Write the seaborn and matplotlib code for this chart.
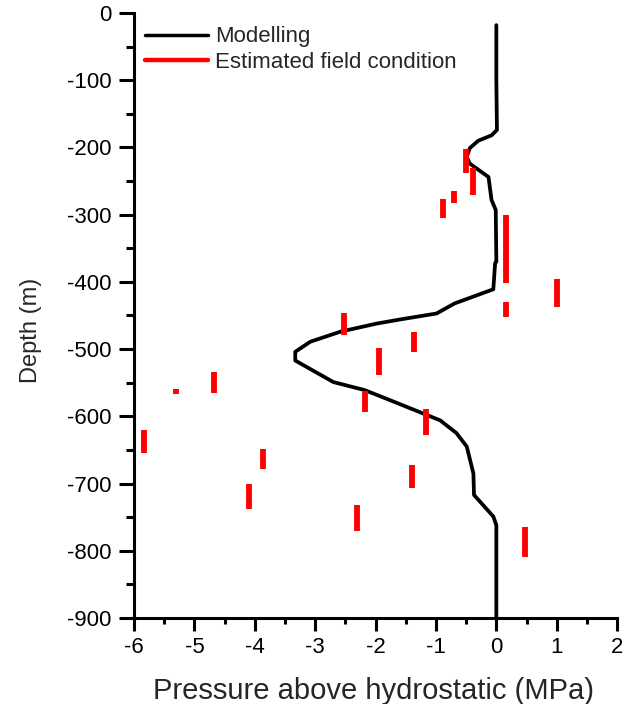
import numpy as np
import pandas as pd
import matplotlib
matplotlib.use("Agg")
import matplotlib.pyplot as plt
from matplotlib.lines import Line2D
from matplotlib.ticker import MultipleLocator
import seaborn as sns

# Modelled pressure profile (MPa above hydrostatic vs depth, m)
model_pressure = [0.0, 0.0, 0.01, -0.08, -0.30, -0.44, -0.49, -0.44, -0.13, -0.08, -0.01, 0.0, -0.02,
                  -0.05, -0.69, -0.99, -1.60, -1.98, -2.58, -3.08, -3.33, -3.33, -2.70, -2.18,
                  -1.76, -0.93, -0.66, -0.49, -0.38, -0.37, -0.05, 0.0, 0.0]
model_depth = [-18, -100, -174, -182, -190, -201, -214, -224, -244, -278, -293, -370, -372,
               -411, -432, -447, -456, -462, -474, -489, -504, -517, -549, -561,
               -576, -606, -625, -645, -685, -717, -749, -762, -900]

# Estimated field condition: pressure and depth interval (top, bottom)
field_pressure = [-0.50, -0.39, -0.70, -0.89, 0.16, 0.16, 1.01, -2.52, -1.36, -1.94,
                  -4.67, -5.30, -2.18, -1.16, -5.83, -3.86, -1.40, -4.09, -2.30, 0.47]
field_top = [-203, -230, -265, -277, -300, -430, -396, -447, -474, -498,
             -534, -559, -562, -589, -621, -648, -673, -701, -732, -764]
field_bottom = [-238, -271, -282, -305, -401, -452, -437, -479, -504, -539,
                -565, -567, -594, -628, -654, -679, -707, -738, -770, -810]

x_ticks = [-6, -5, -4, -3, -2, -1, 0, 1, 2]
y_ticks = [0, -100, -200, -300, -400, -500, -600, -700, -800, -900]

sns.set_style("ticks")
plt.rcParams['font.family'] = ['Liberation Sans', 'DejaVu Sans']

fig = plt.figure(figsize=(6.31, 7.04), dpi=100)
ax = fig.add_axes([0.2124, 0.1222, 0.7656, 0.8593])

df_model = pd.DataFrame({"pressure": model_pressure, "depth": model_depth})
sns.lineplot(data=df_model, x="pressure", y="depth", sort=False, estimator=None,
             color="black", lw=2.7, ax=ax)

rows = []
for i, (p, t, b) in enumerate(zip(field_pressure, field_top, field_bottom)):
    rows.append({"bar": i, "pressure": p, "depth": t})
    rows.append({"bar": i, "pressure": p, "depth": b})
df_field = pd.DataFrame(rows)
sns.lineplot(data=df_field, x="pressure", y="depth", units="bar", estimator=None,
             sort=False, color="#ff0000", lw=4.2, solid_capstyle="butt", ax=ax)

ax.set_xlim(-6, 2)
ax.set_ylim(-900, 0)
ax.set_xticks(x_ticks)
ax.set_yticks(y_ticks)
ax.xaxis.set_minor_locator(MultipleLocator(0.5))
ax.yaxis.set_minor_locator(MultipleLocator(50))
ax.set_xticklabels([str(v) for v in x_ticks])
ax.set_yticklabels([str(v) for v in y_ticks])

for s in ["top", "right"]:
    ax.spines[s].set_visible(False)
for s in ["left", "bottom"]:
    ax.spines[s].set_linewidth(2.2)
    ax.spines[s].set_color("black")

ax.tick_params(which="major", direction="out", width=2.2, labelsize=16,
               colors="black", pad=5)
ax.tick_params(which="minor", direction="out", width=2.2, colors="black")
ax.tick_params(axis="x", which="major", length=9)
ax.tick_params(axis="x", which="minor", length=4.5)
ax.tick_params(axis="y", which="major", length=11)
ax.tick_params(axis="y", which="minor", length=6)

ax.set_xlabel("Pressure above hydrostatic (MPa)", fontsize=21)
ax.set_ylabel("Depth (m)", fontsize=17)
ax.xaxis.set_label_coords(0.495, -0.098)
ax.yaxis.set_label_coords(-0.19, 0.476)

handles = [Line2D([], [], color="black", lw=2.5),
           Line2D([], [], color="#ff0000", lw=3.2)]
ax.legend(handles, ["Modelling", "Estimated field condition"], loc="upper left",
          bbox_to_anchor=(0.022, 0.978), frameon=False, fontsize=16,
          handlelength=2.85, handletextpad=0.33, borderpad=0, borderaxespad=0,
          labelspacing=0.2)

fig.savefig("out.png", dpi=100)
